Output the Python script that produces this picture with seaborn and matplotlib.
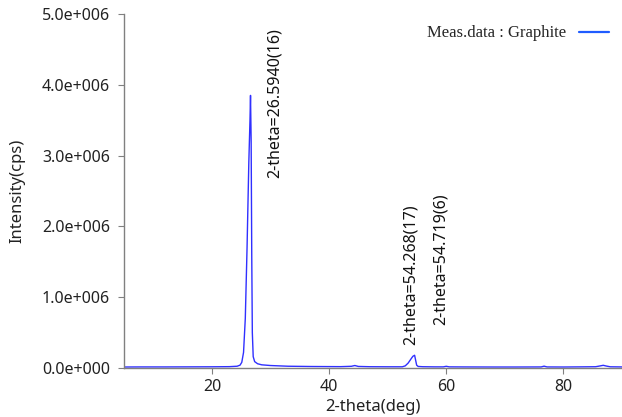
import matplotlib
matplotlib.use("Agg")
import matplotlib.pyplot as plt
import seaborn as sns
import pandas as pd
from matplotlib.ticker import FuncFormatter

# ---- data ----
two_theta = [5, 8, 12, 16, 20, 23, 24.3, 24.8, 25.1, 25.4, 25.7, 26.0, 26.3, 26.5, 26.59,
             26.7, 26.8, 26.9, 27.05, 27.3, 27.8, 28.5, 30, 33, 37, 42, 43.8, 44.4, 45.0,
             47, 50, 52.5, 53.0, 53.5, 54.0, 54.3, 54.6, 54.75, 54.95, 55.2, 56, 58, 59.5,
             60.0, 60.5, 63, 68, 72, 76.2, 76.7, 77.2, 80, 83, 85.5, 86.3, 86.8, 87.3, 88, 90]
intensity = [14000, 15000, 15000, 16000, 17000, 19000, 25000, 40000, 80000, 220000, 700000,
             1700000, 2900000, 3500000, 3850000, 3200000, 1600000, 500000, 160000, 90000,
             60000, 45000, 35000, 25000, 21000, 19000, 24000, 35000, 22000, 18000, 17000, 17000,
             30000, 70000, 130000, 165000, 180000, 120000, 40000, 22000, 18000, 16000, 16000,
             24000, 16000, 15000, 14000, 14000, 15000, 26000, 15000, 14000, 16000, 18000,
             30000, 38000, 28000, 17000, 15000]

ann_labels = ["2-theta=26.5940(16)", "2-theta=54.268(17)", "2-theta=54.719(6)"]
ann_x = [30.8, 53.9, 59.0]
ann_y = [2.68e6, 3.25e5, 6.1e5]

series_name = "Meas.data : Graphite"
df = pd.DataFrame({"2-theta": two_theta, "Intensity": intensity, "s": series_name})

sns.set_style("white")
plt.rcParams['font.family'] = ['Noto Sans', 'DejaVu Sans']

fig = plt.figure(figsize=(6.22, 4.17), dpi=100)
ax = fig.add_axes([0.1994, 0.1175, 0.8006, 0.849])

sns.lineplot(data=df, x="2-theta", y="Intensity", hue="s", palette=["#3030ff"],
             linewidth=1.0, ax=ax, legend=True)

ax.set_xlim(5, 90)
ax.set_ylim(0, 5e6)
ax.set_xticks([20, 40, 60, 80])
ax.set_yticks([0, 1e6, 2e6, 3e6, 4e6, 5e6])

def fmt(v, pos):
    m, e = f"{v:.1e}".split("e")
    sign = e[0]
    return f"{m}e{sign}{int(e[1:]):03d}"
ax.yaxis.set_major_formatter(FuncFormatter(fmt))

ax.tick_params(axis="both", direction="out", length=4, width=0.8, color="#808080",
               labelsize=11.5, labelcolor="#222222", pad=6, bottom=True, left=True)
ax.tick_params(axis="x", pad=4)
for s in ["top", "right"]:
    ax.spines[s].set_visible(False)
for s in ["left", "bottom"]:
    ax.spines[s].set_color("#808080")
    ax.spines[s].set_linewidth(1.0)

ax.set_xlabel("2-theta(deg)", fontsize=12, color="#222222", labelpad=3)
ax.set_ylabel("Intensity(cps)", fontsize=12, color="#222222", labelpad=12)

for lab, xv, yv in zip(ann_labels, ann_x, ann_y):
    ax.text(xv, yv, lab, rotation=90, ha="center", va="bottom", fontsize=11.5, color="#111111")

leg = ax.legend(loc="upper right", frameon=False, markerfirst=False,
                prop={"family": "Liberation Serif", "size": 12},
                handlelength=1.8, bbox_to_anchor=(1.004, 1.01))
for h in leg.get_lines():
    h.set_color("#1f5cff")
    h.set_linewidth(1.6)

fig.savefig("out.png", dpi=100)
